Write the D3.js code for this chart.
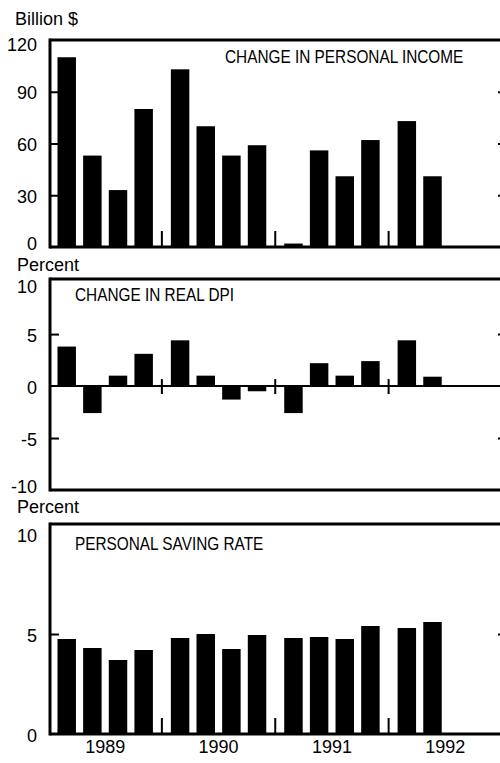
<html>
<meta charset="utf-8">
<head>
	<title>Personal income, real DPI and saving rate</title>
	<script src="https://d3js.org/d3.v7.min.js"></script>
	<style>
		body { margin:0; background:#fff; }
		text { font-family: "Liberation Sans", Arial, sans-serif; fill:#000; }
	</style>
</head>
<body>
<svg id="chart" width="500" height="763"></svg>

<script>
	var years = ["1989", "1990", "1991", "1992"];
	var quarters = ["Q1", "Q2", "Q3", "Q4"];

	// quarterly change, billion $ (annual rate)
	var personalIncome = [110, 53, 33, 80, 103, 70, 53, 59, 2, 56, 41, 62, 73, 41];
	// percent change, annual rate
	var realDpi = [3.8, -2.6, 1.0, 3.1, 4.4, 1.0, -1.3, -0.5, -2.6, 2.2, 1.0, 2.4, 4.4, 0.9];
	// percent of disposable income
	var savingRate = [4.75, 4.3, 3.7, 4.2, 4.8, 5.0, 4.25, 4.95, 4.8, 4.85, 4.75, 5.4, 5.3, 5.6];

	var incomeTicks = [0, 30, 60, 90, 120];
	var dpiTicks = [-10, -5, 0, 5, 10];
	var savingTicks = [0, 5, 10];

	var svg = d3.select("#chart");

	var left = 50;
	var right = 507;

	var xYear = d3.scaleBand().domain(years).range([48.5, 502]);
	var xQuarter = d3.scaleBand().domain(quarters)
		.range([0, xYear.bandwidth()])
		.paddingInner(0.28)
		.paddingOuter(0.35);

	function xPos(i) {
		return xYear(years[Math.floor(i / 4)]) + xQuarter(quarters[i % 4]);
	}

	var panels = [
		{ values: personalIncome, ticks: incomeTicks, domain: [0, 120], range: [247, 40],
		  title: "CHANGE IN PERSONAL INCOME", titleX: 225, titleY: 63,
		  unit: "Billion $", unitX: 15, unitY: 25, yearTicks: "up" },
		{ values: realDpi, ticks: dpiTicks, domain: [-10, 10.3], range: [490, 279],
		  title: "CHANGE IN REAL DPI", titleX: 75, titleY: 301,
		  unit: "Percent", unitX: 17, unitY: 271, yearTicks: "cross" },
		{ values: savingRate, ticks: savingTicks, domain: [0, 10.5], range: [734, 524],
		  title: "PERSONAL SAVING RATE", titleX: 75, titleY: 550,
		  unit: "Percent", unitX: 17, unitY: 513, yearTicks: "up" }
	];

	panels.forEach(function (p, pi) {
		var y = d3.scaleLinear().domain(p.domain).range(p.range);
		var g = svg.append("g");
		var top = p.range[1];
		var bottom = p.range[0];
		var lo = p.ticks[0];
		var hi = p.ticks[p.ticks.length - 1];
		var inner = p.ticks.filter(function (t) { return t !== 0 && t !== lo && t !== hi; });

		// bars
		g.selectAll("rect.bar").data(p.values).enter()
			.append("rect")
			.attr("class", "bar")
			.attr("x", function (d, i) { return xPos(i); })
			.attr("width", xQuarter.bandwidth())
			.attr("y", function (d) { return y(Math.max(0, d)); })
			.attr("height", function (d) { return Math.abs(y(d) - y(0)); })
			.attr("fill", "#000");

		// left axis, ticks pointing in
		var yAxis = d3.axisLeft(y)
			.tickValues(p.ticks)
			.tickFormat(function (d) { return String(d); })
			.tickSizeInner(-9)
			.tickSizeOuter(0)
			.tickPadding(13);
		var ax = g.append("g").attr("transform", "translate(" + left + ",0)").call(yAxis);
		ax.select(".domain").remove();
		ax.selectAll(".tick line").attr("stroke", "#000").attr("stroke-width", 2)
			.filter(function (d) { return inner.indexOf(d) < 0; }).remove();
		ax.selectAll("text").attr("font-size", 18).attr("font-family", null)
			.attr("dy", function (d) {
				if (d === lo && pi < 2) return "0.15em";
				if (d === hi && pi < 2) return "0.6em";
				return "0.4em";
			});

		// right axis, cut off by the page edge
		var rAxis = d3.axisLeft(y).tickValues(inner).tickFormat("").tickSizeInner(9).tickSizeOuter(0);
		var rx = g.append("g").attr("transform", "translate(" + right + ",0)").call(rAxis);
		rx.select(".domain").remove();
		rx.selectAll(".tick line").attr("stroke", "#000").attr("stroke-width", 2);

		// frame
		g.append("line").attr("x1", left).attr("x2", right).attr("y1", top).attr("y2", top)
			.attr("stroke", "#000").attr("stroke-width", 3);
		g.append("line").attr("x1", left).attr("x2", right).attr("y1", bottom).attr("y2", bottom)
			.attr("stroke", "#000").attr("stroke-width", 3);
		g.append("line").attr("x1", left).attr("x2", left).attr("y1", top - 1.5).attr("y2", bottom + 1.5)
			.attr("stroke", "#000").attr("stroke-width", 3);

		if (p.domain[0] < 0) {
			g.append("line").attr("x1", left).attr("x2", right).attr("y1", y(0)).attr("y2", y(0))
				.attr("stroke", "#000").attr("stroke-width", 2);
		}

		// year separators
		g.selectAll("line.year").data(years.slice(1)).enter()
			.append("line")
			.attr("class", "year")
			.attr("x1", function (d) { return xYear(d); })
			.attr("x2", function (d) { return xYear(d); })
			.attr("y1", p.yearTicks === "cross" ? y(0) + 8 : y(0))
			.attr("y2", p.yearTicks === "cross" ? y(0) - 7 : y(0) - 16)
			.attr("stroke", "#000").attr("stroke-width", 2);

		// condensed panel title
		g.append("text")
			.attr("transform", "translate(" + p.titleX + "," + p.titleY + ") scale(0.83,1)")
			.attr("font-size", 18.5)
			.text(p.title);

		g.append("text")
			.attr("x", p.unitX).attr("y", p.unitY)
			.attr("font-size", 18)
			.text(p.unit);

		if (pi === 2) {
			var xAxis = d3.axisBottom(xYear).tickSize(0).tickPadding(6);
			var bx = g.append("g").attr("transform", "translate(0," + bottom + ")").call(xAxis);
			bx.select(".domain").remove();
			bx.selectAll("text").attr("font-size", 18).attr("font-family", null);
		}
	});
</script>
</body>
</html>
